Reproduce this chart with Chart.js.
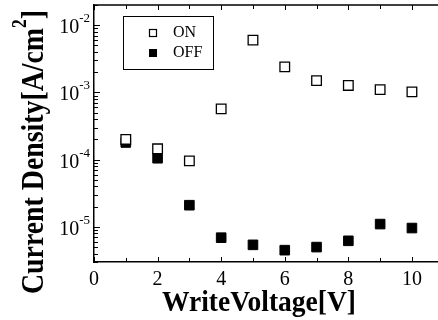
<!DOCTYPE html>
<html>
<head>
<meta charset="utf-8">
<script src="https://cdn.jsdelivr.net/npm/chart.js@4"></script>
<style>
  html, body { margin: 0; padding: 0; background: #fff; }
  #wrap { width: 438px; height: 320px; }
</style>
</head>
<body>
<div id="wrap"><canvas id="chart" width="438" height="320"></canvas></div>
<script>
// Write voltage (V)
const voltages = [1, 2, 3, 4, 5, 6, 7, 8, 9, 10];
// Current density in ON state (A/cm^2)
const onValues = [2.0e-4, 1.45e-4, 9.6e-5, 5.7e-4, 6.0e-3, 2.4e-3, 1.5e-3, 1.27e-3, 1.1e-3, 1.02e-3];
// Current density in OFF state (A/cm^2)
const offValues = [1.8e-4, 1.05e-4, 2.1e-5, 6.9e-6, 5.4e-6, 4.5e-6, 5.0e-6, 6.2e-6, 1.1e-5, 9.6e-6];
// Tick labels
const xTicks = [0, 2, 4, 6, 8, 10];
const yDecades = [-5, -4, -3, -2];

const serif = '"Liberation Serif", "DejaVu Serif", serif';

// Draws ticks, tick labels, titles and the legend box
const decorPlugin = {
    id: 'decor',
    afterDraw(chart) {
        const ctx = chart.ctx;
        const area = chart.chartArea;
        const xs = chart.scales.x;
        const ys = chart.scales.y;
        ctx.save();
        ctx.strokeStyle = '#000';
        ctx.fillStyle = '#000';

        // top border
        ctx.lineWidth = 1.5;
        ctx.beginPath();
        ctx.moveTo(area.left, area.top);
        ctx.lineTo(area.right, area.top);
        ctx.stroke();

        // x ticks (inward, bottom and top)
        ctx.lineWidth = 1;
        for (let v = 0; v <= 10; v++) {
            const px = Math.round(xs.getPixelForValue(v)) + 0.5;
            const len = v % 2 === 0 ? 5 : 4;
            ctx.beginPath();
            ctx.moveTo(px, area.bottom);
            ctx.lineTo(px, area.bottom - len);
            ctx.moveTo(px, area.top);
            ctx.lineTo(px, area.top + len);
            ctx.stroke();
        }
        // y ticks: majors and log minors
        for (let d = -6; d <= -1; d++) {
            for (let m = 1; m <= 9; m++) {
                const val = m * Math.pow(10, d);
                if (val < ys.min || val > ys.max) continue;
                const py = Math.round(ys.getPixelForValue(val)) + 0.5;
                const len = m === 1 ? 6 : 4;
                ctx.beginPath();
                ctx.moveTo(area.left, py);
                ctx.lineTo(area.left + len, py);
                ctx.stroke();
            }
        }

        // x tick labels
        ctx.font = '20px ' + serif;
        ctx.textAlign = 'center';
        ctx.textBaseline = 'alphabetic';
        xTicks.forEach(v => {
            ctx.fillText(String(v), xs.getPixelForValue(v), area.bottom + 23);
        });

        // y tick labels 10^n
        yDecades.forEach(d => {
            const py = ys.getPixelForValue(Math.pow(10, d));
            ctx.font = '20px ' + serif;
            ctx.textAlign = 'left';
            const baseW = ctx.measureText('10').width;
            ctx.font = '13px ' + serif;
            const supW = ctx.measureText(String(d)).width;
            const x0 = area.left - 4 - baseW - supW;
            ctx.font = '20px ' + serif;
            ctx.fillText('10', x0, py + 8);
            ctx.font = '13px ' + serif;
            ctx.fillText(String(d), x0 + baseW, py - 3);
        });

        // x title
        ctx.font = 'bold 30px ' + serif;
        ctx.textAlign = 'center';
        const xt = 'WriteVoltage[V]';
        const xw = ctx.measureText(xt).width;
        ctx.save();
        ctx.translate(259, 311);
        ctx.scale(194 / xw, 1);
        ctx.fillText(xt, 0, 0);
        ctx.restore();

        // y title
        ctx.save();
        ctx.translate(43, 152);
        ctx.rotate(-Math.PI / 2);
        ctx.font = 'bold 32px ' + serif;
        const yt = 'Current Density[A/cm';
        const yw = ctx.measureText(yt).width;
        ctx.font = 'bold 20px ' + serif;
        const sw = ctx.measureText('2').width;
        ctx.font = 'bold 32px ' + serif;
        const tw = ctx.measureText(']').width;
        const total = yw + sw + tw;
        ctx.scale(284 / total, 1);
        let x = -total / 2;
        ctx.textAlign = 'left';
        ctx.fillText(yt, x, 0);
        x += yw;
        ctx.font = 'bold 20px ' + serif;
        ctx.fillText('2', x, -17);
        x += sw;
        ctx.font = 'bold 32px ' + serif;
        ctx.fillText(']', x, 0);
        ctx.restore();

        // legend
        ctx.lineWidth = 1;
        ctx.strokeRect(123.5, 16.5, 90, 53);
        ctx.font = '16px ' + serif;
        ctx.textAlign = 'left';
        ctx.textBaseline = 'middle';
        ctx.lineWidth = 1.2;
        ctx.strokeRect(149.5, 29.5, 7, 7);
        ctx.fillText('ON', 173, 33);
        ctx.fillRect(149, 49, 8, 8);
        ctx.fillText('OFF', 173, 53);

        ctx.restore();
    }
};

const chart = new Chart(document.getElementById('chart').getContext('2d'), {
    type: 'scatter',
    data: {
        datasets: [
            {
                label: 'ON',
                data: voltages.map((v, i) => ({ x: v, y: onValues[i] })),
                pointStyle: 'rect',
                pointRadius: 6.8,
                borderColor: '#000',
                borderWidth: 1.3,
                backgroundColor: '#fff'
            },
            {
                label: 'OFF',
                data: voltages.map((v, i) => ({ x: v, y: offValues[i] })),
                pointStyle: 'rect',
                pointRadius: 6.8,
                borderColor: '#000',
                borderWidth: 1,
                backgroundColor: '#000'
            }
        ]
    },
    options: {
        responsive: false,
        animation: false,
        layout: { autoPadding: false, padding: { left: 0, top: 5, right: 0, bottom: 0 } },
        plugins: { legend: { display: false }, tooltip: { enabled: false } },
        scales: {
            x: {
                type: 'linear',
                min: 0,
                max: 10.82,
                grid: { display: false, drawTicks: false },
                border: { display: true, color: '#000', width: 1.5 },
                ticks: { display: false },
                afterFit(scale) { scale.height = 58; }
            },
            y: {
                type: 'logarithmic',
                min: 3.0e-6,
                max: 2.0e-2,
                grid: { display: false, drawTicks: false },
                border: { display: true, color: '#000', width: 1.5 },
                ticks: { display: false },
                afterFit(scale) { scale.width = 94; }
            }
        }
    },
    plugins: [decorPlugin]
});
</script>
</body>
</html>
